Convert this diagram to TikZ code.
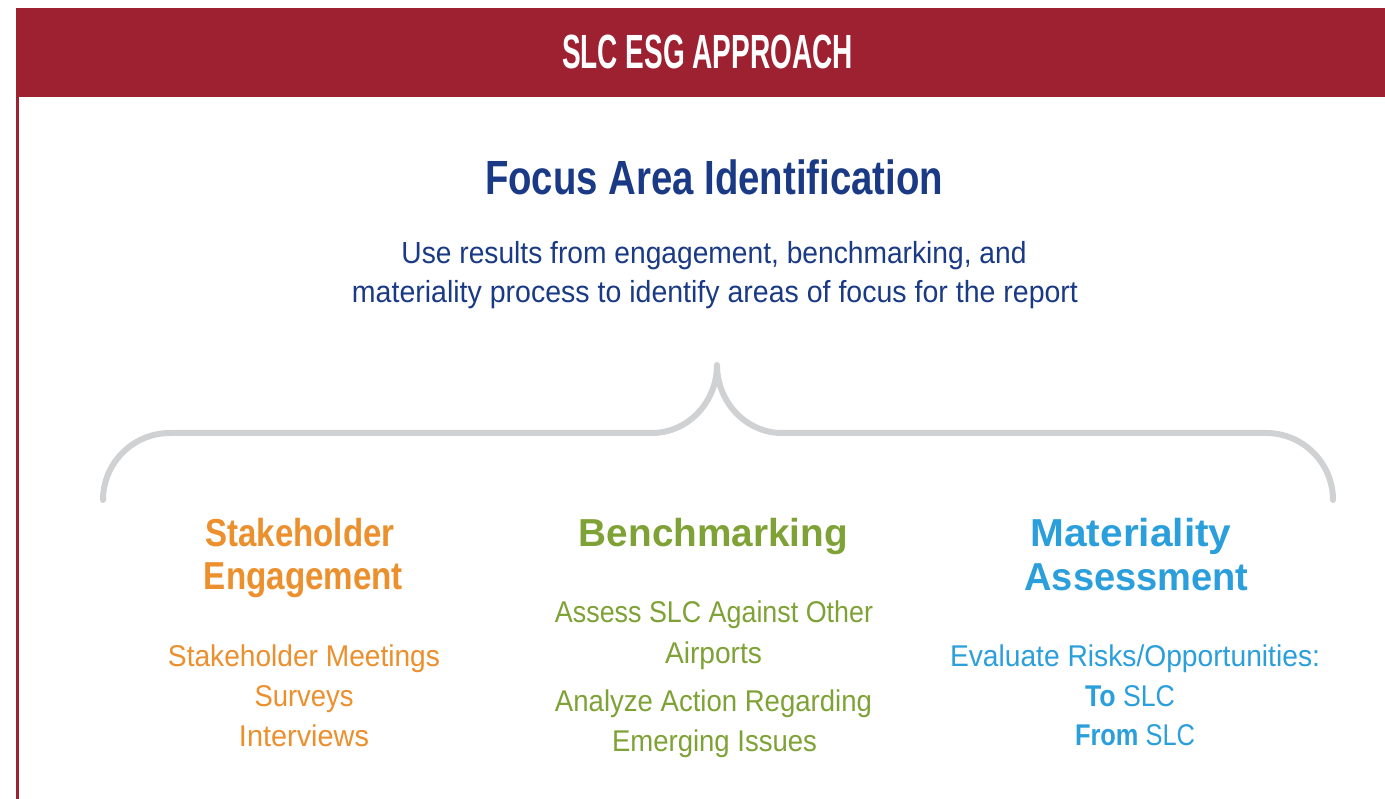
\documentclass[tikz,border=0pt]{standalone}
\usepackage{fontspec}
\usepackage{graphicx}
\setmainfont{Liberation Sans}

\definecolor{slcred}{HTML}{9E2132}
\definecolor{slcnavy}{HTML}{1B3A86}
\definecolor{slcorange}{HTML}{EC8F2D}
\definecolor{slcgreen}{HTML}{7FA236}
\definecolor{slcblue}{HTML}{2B9FDC}
\definecolor{bracegray}{HTML}{D0D1D3}

% set a line of text to a given width (in pt), keeping its height
\newcommand\fitline[2]{\resizebox{#1pt}{\height}{#2}}

\tikzset{
  txt/.style={anchor=base, inner sep=0pt, outer sep=0pt},
  banner/.style={txt, text=white, font=\bfseries\fontsize{48}{50}\selectfont},
  headline/.style={txt, text=slcnavy, font=\bfseries\fontsize{48}{50}\selectfont},
  intro/.style={txt, text=slcnavy, font=\fontsize{30.5}{32}\selectfont},
  colhead/.style={txt, font=\bfseries\fontsize{39}{40}\selectfont},
  colitem/.style={txt, font=\fontsize{30}{32}\selectfont},
  brace/.style={draw=bracegray, line width=6pt, line cap=round, line join=round},
}

\begin{document}
\begin{tikzpicture}[x=1pt, y=-1pt]
  \useasboundingbox (0,0) rectangle (1385,799);
  \fill[white] (0,0) rectangle (1385,799);

  % title banner and left rule
  \fill[slcred] (16,8) rectangle (1385,97);
  \fill[slcred] (16,97) rectangle (19,799);
  \node[banner] (banner) at (707.5,69) {\fitline{291}{SLC ESG APPROACH}};

  % focus area heading
  \node[headline] (focus) at (714,195) {\fitline{458}{Focus Area Identification}};
  \node[intro] (intro1) at (714,264) {\fitline{625}{Use results from engagement, benchmarking, and}};
  \node[intro] (intro2) at (715,303) {\fitline{726}{materiality process to identify areas of focus for the report}};

  % brace gathering the three columns
  \coordinate (bl) at (103,500);
  \coordinate (tip) at (717,365);
  \coordinate (br) at (1333,500);
  \draw[brace] (bl) .. controls (103,463) and (133,433) .. (170,433)
    -- (652,433) .. controls (688,433) and (717,402) .. (tip)
    .. controls (717,402) and (746,433) .. (782,433)
    -- (1266,433) .. controls (1303,433) and (1333,463) .. (br);

  % stakeholder engagement column
  \begin{scope}[every node/.append style={text=slcorange}]
    \node[colhead] (se1) at (300,547) {\fitline{189}{Stakeholder}};
    \node[colhead] (se2) at (303.5,589) {\fitline{199}{Engagement}};
    \node[colitem] (se3) at (304,666) {\fitline{272}{Stakeholder Meetings}};
    \node[colitem] (se4) at (304,706) {\fitline{99}{Surveys}};
    \node[colitem] (se5) at (304,746) {\fitline{130}{Interviews}};
  \end{scope}

  % benchmarking column
  \begin{scope}[every node/.append style={text=slcgreen}]
    \node[colhead] (bm1) at (713.5,547) {\fitline{269}{Benchmarking}};
    \node[colitem] (bm2) at (714,622) {\fitline{318}{Assess SLC Against Other}};
    \node[colitem] (bm3) at (713.5,663) {\fitline{97}{Airports}};
    \node[colitem] (bm4) at (713.5,711) {\fitline{317}{Analyze Action Regarding}};
    \node[colitem] (bm5) at (714.5,751) {\fitline{205}{Emerging Issues}};
  \end{scope}

  % materiality assessment column
  \begin{scope}[every node/.append style={text=slcblue}]
    \node[colhead] (ma1) at (1131,546) {\fitline{201}{Materiality}};
    \node[colhead] (ma2) at (1136.5,590) {\fitline{224}{Assessment}};
    \node[colitem] (ma3) at (1135,666) {\fitline{370}{Evaluate Risks/Opportunities:}};
    \node[colitem] (ma4) at (1130,706) {\fitline{90}{\textbf{To} SLC}};
    \node[colitem] (ma5) at (1135,745) {\fitline{120}{\textbf{From} SLC}};
  \end{scope}
\end{tikzpicture}
\end{document}
